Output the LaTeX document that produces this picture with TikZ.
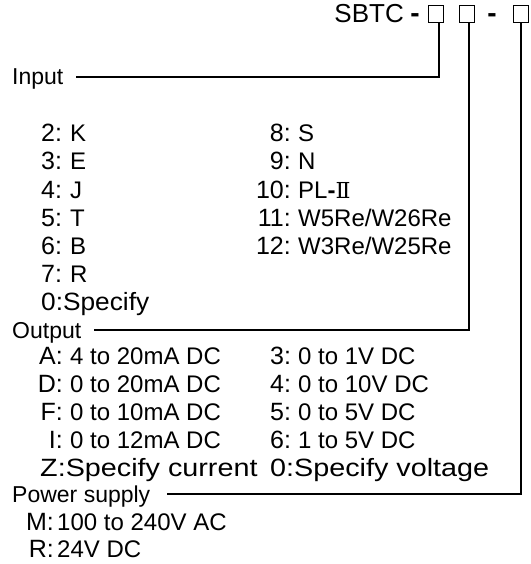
\documentclass[tikz,border=0pt]{standalone}
\usepackage{fontspec}
\setmainfont{Liberation Sans}
\newfontfamily\romfont{DejaVu Serif}
\tikzset{
  hdr/.style={anchor=base west, inner sep=0pt, font=\fontsize{23}{23}\selectfont},
  val/.style={anchor=base west, inner sep=0pt, font=\fontsize{24}{24}\selectfont},
  code/.style={anchor=base east, inner sep=0pt, font=\fontsize{25}{25}\selectfont},
  codel/.style={anchor=base west, inner sep=0pt, font=\fontsize{25}{25}\selectfont},
  spec/.style={anchor=base west, inner sep=0pt, font=\fontsize{25}{25}\selectfont, xscale=1.15, transform shape},
  spec0/.style={anchor=base west, inner sep=0pt, font=\fontsize{25}{25}\selectfont, xscale=1.05, transform shape},
  title/.style={anchor=base east, inner sep=0pt, font=\fontsize{26}{26}\selectfont},
  dsh/.style={anchor=base, inner sep=0pt, font=\fontsize{28}{28}\selectfont\bfseries},
  sbox/.style={draw, line width=0.8pt, minimum width=15pt, minimum height=17pt, inner sep=0pt},
  lead/.style={line width=1.4pt},
}
\begin{document}
\begin{tikzpicture}[x=1pt,y=-1pt]
\useasboundingbox (0,0) rectangle (530,564);
% title
\node[title] (sbtc) at (404,23) {SBTC};
\node[dsh] (d1) at (415,23) {-};
\node[sbox] (b1) at (436,14) {};
\node[sbox] (b2) at (467,14) {};
\node[dsh] (d2) at (492,23) {-};
\node[sbox] (b3) at (521,14) {};
% Input
\node[hdr] (inp) at (12,85) {Input};
\coordinate (inL) at (76,77);
\draw[lead] ([xshift=3pt]b1.south) |- (inL);
\foreach \c/\v/\y in {2/K/142, 3/E/170, 4/J/198, 5/T/226, 6/B/254, 7/R/282}{
  \node[codel] (ic\c) at (41,\y) {\c:};
  \node[val] (iv\c) at (70,\y) {\v};
}
\node[spec0] (ic0) at (41,310) {0:Specify};
\foreach \c/\v/\y in {8/S/142, 9/N/170, 11/W5Re\slash W26Re/226, 12/W3Re\slash W25Re/254}{
  \node[code] (jc\c) at (291,\y) {\c:};
  \node[val] (jv\c) at (298,\y) {\v};
}
\node[code] (jc10) at (291,198) {10:};
\node[val] (jv10) at (298,198) {PL\textbf{-}{\romfont\fontsize{22}{22}\selectfont Ⅱ}};
% Output
\node[hdr] (out) at (12,338) {Output};
\coordinate (outL) at (94,330);
\draw[lead] ([xshift=2pt]b2.south) |- (outL);
\foreach \c/\v/\y in {A/4 to 20mA DC/364, D/0 to 20mA DC/392, F/0 to 10mA DC/420, I/0 to 12mA DC/448}{
  \node[code] (oc\c) at (63,\y) {\c:};
  \node[val] (ov\c) at (70,\y) {\v};
}
\node[spec] (ocZ) at (40,476) {Z:Specify current};
\foreach \c/\v/\y in {3/0 to 1V DC/364, 4/0 to 10V DC/392, 5/0 to 5V DC/420, 6/1 to 5V DC/448}{
  \node[codel] (pc\c) at (270,\y) {\c:};
  \node[val] (pv\c) at (298,\y) {\v};
}
\node[spec] (pc0) at (270,476) {0:Specify voltage};
% Power supply
\node[hdr] (pow) at (12,502) {Power supply};
\coordinate (powL) at (167,494);
\draw[lead] (b3.south) |- (powL);
\node[code] (qcM) at (54,530) {M:};
\node[val] (qvM) at (57,530) {100 to 240V AC};
\node[code] (qcR) at (54,557) {R:};
\node[val] (qvR) at (57,557) {24V DC};
\end{tikzpicture}
\end{document}
